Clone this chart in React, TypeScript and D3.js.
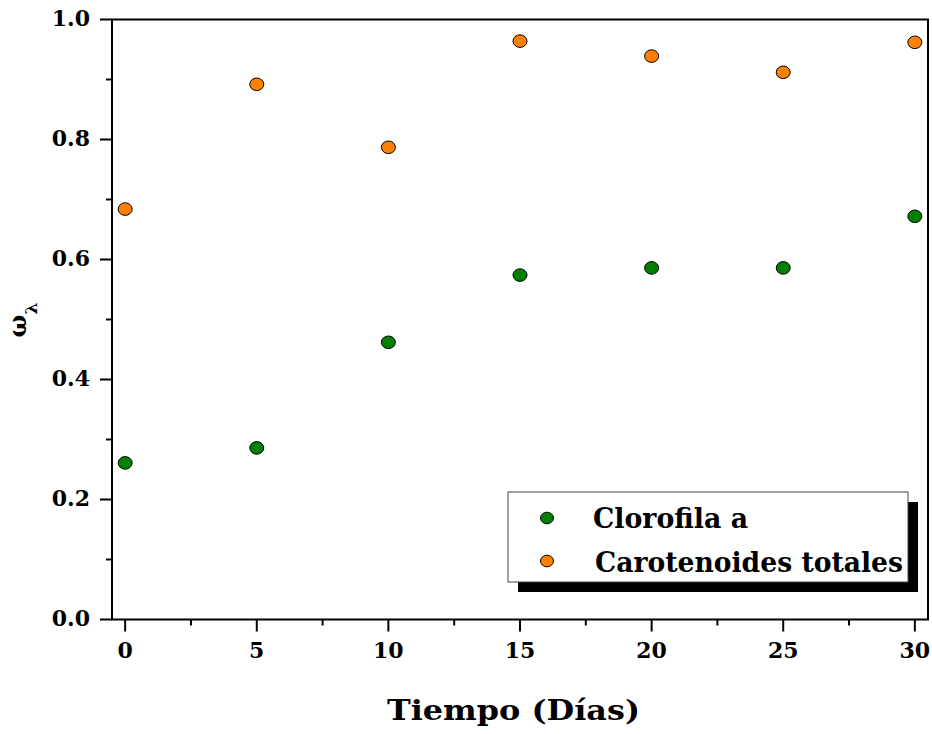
import React, { useEffect, useRef } from "react";
import * as d3 from "d3";

const days = [0, 5, 10, 15, 20, 25, 30];
const clorofila = [0.261, 0.286, 0.462, 0.574, 0.586, 0.586, 0.672];
const carotenoides = [0.684, 0.892, 0.787, 0.964, 0.939, 0.912, 0.962];
const seriesNames = ["Clorofila a", "Carotenoides totales"];
const seriesColors = ["#008000", "#ff8000"];
const xMajorTicks = [0, 5, 10, 15, 20, 25, 30];
const yMajorTicks = [0, 0.2, 0.4, 0.6, 0.8, 1.0];

const W = 932;
const H = 734;
const FONT = "'DejaVu Serif', serif";

export default function App() {
  const ref = useRef<SVGSVGElement>(null);

  useEffect(() => {
    const svg = d3.select(ref.current);
    svg.selectAll("*").remove();

    const left = 112, right = 928, top = 19.5, bottom = 619.5;
    const x = d3.scaleLinear().domain([-0.5, 30.5]).range([left, right]);
    const y = d3.scaleLinear().domain([0, 1]).range([bottom, top]);

    const g = svg.append("g");

    // Frame
    g.append("rect")
      .attr("x", left).attr("y", top)
      .attr("width", right - left).attr("height", bottom - top)
      .attr("fill", "none").attr("stroke", "#000").attr("stroke-width", 2);

    // Y axis ticks
    const yMinor = d3.range(0.1, 1.0, 0.2);
    yMajorTicks.forEach((t) => {
      g.append("line").attr("x1", left - 12).attr("x2", left)
        .attr("y1", y(t)).attr("y2", y(t))
        .attr("stroke", "#000").attr("stroke-width", 2);
      g.append("text").attr("x", left - 22).attr("y", y(t) + 6)
        .attr("text-anchor", "end").attr("font-family", FONT)
        .attr("font-weight", "bold").attr("font-size", 22)
        .text(t.toFixed(1));
    });
    yMinor.forEach((t) => {
      g.append("line").attr("x1", left - 6).attr("x2", left)
        .attr("y1", y(t)).attr("y2", y(t))
        .attr("stroke", "#000").attr("stroke-width", 2);
    });

    // X axis ticks
    const xMinor = d3.range(2.5, 30, 5);
    xMajorTicks.forEach((t) => {
      g.append("line").attr("x1", x(t)).attr("x2", x(t))
        .attr("y1", bottom).attr("y2", bottom + 12)
        .attr("stroke", "#000").attr("stroke-width", 2);
      g.append("text").attr("x", x(t)).attr("y", bottom + 38.5)
        .attr("text-anchor", "middle").attr("font-family", FONT)
        .attr("font-weight", "bold").attr("font-size", 22)
        .text(String(t));
    });
    xMinor.forEach((t) => {
      g.append("line").attr("x1", x(t)).attr("x2", x(t))
        .attr("y1", bottom).attr("y2", bottom + 6)
        .attr("stroke", "#000").attr("stroke-width", 2);
    });

    // Axis titles
    g.append("text").attr("x", 387).attr("y", 720)
      .attr("font-family", FONT)
      .attr("font-weight", "bold").attr("font-size", 28)
      .attr("textLength", 253).attr("lengthAdjust", "spacingAndGlyphs")
      .text("Tiempo (Días)");

    const yl = g.append("text")
      .attr("transform", `translate(26, 320) rotate(-90)`)
      .attr("text-anchor", "middle").attr("font-family", FONT)
      .attr("font-weight", "bold").attr("font-size", 24);
    yl.append("tspan").text("ω");
    yl.append("tspan").attr("dy", 11).attr("font-size", 17).text("λ");

    // Points
    const data = [clorofila, carotenoides];
    data.forEach((vals, i) => {
      g.selectAll(`.pt${i}`).data(vals).enter().append("ellipse")
        .attr("cx", (_d, j) => x(days[j]))
        .attr("cy", (d) => y(d))
        .attr("rx", 7).attr("ry", 6.3)
        .attr("fill", seriesColors[i])
        .attr("stroke", "#000").attr("stroke-width", 1);
    });

    // Legend
    const lx = 508, ly = 492, lw = 400, lh = 90;
    g.append("rect").attr("x", lx + 10).attr("y", ly + 10)
      .attr("width", lw).attr("height", lh).attr("fill", "#000");
    g.append("rect").attr("x", lx).attr("y", ly)
      .attr("width", lw).attr("height", lh).attr("fill", "#fff")
      .attr("stroke", "#444").attr("stroke-width", 1);
    const rows = [
      { cy: 518, tx: 593, base: 527.5, len: 155 },
      { cy: 561, tx: 595, base: 571.5, len: 308 },
    ];
    seriesNames.forEach((name, i) => {
      g.append("ellipse").attr("cx", 547).attr("cy", rows[i].cy)
        .attr("rx", 6.5).attr("ry", 5.8)
        .attr("fill", seriesColors[i]).attr("stroke", "#000").attr("stroke-width", 1);
      g.append("text").attr("x", rows[i].tx).attr("y", rows[i].base)
        .attr("font-family", FONT).attr("font-weight", "bold").attr("font-size", 27)
        .attr("textLength", rows[i].len).attr("lengthAdjust", "spacingAndGlyphs")
        .text(name);
    });
  }, []);

  return (
    <div style={{ position: "absolute", left: 0, top: 0 }}>
      <svg ref={ref} width={W} height={H} style={{ display: "block", background: "#fff" }} />
    </div>
  );
}
